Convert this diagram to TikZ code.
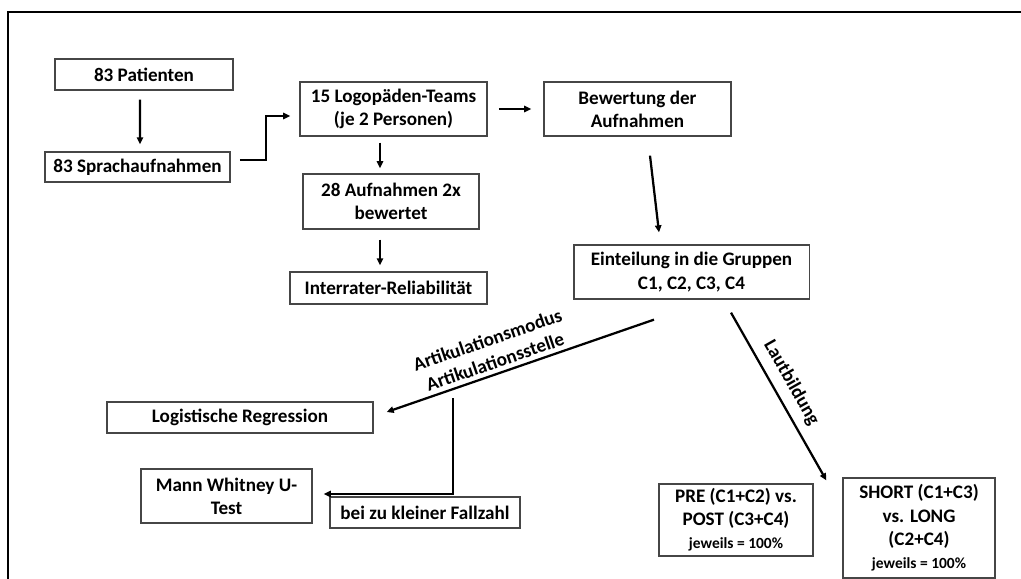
\documentclass[tikz,border=0pt]{standalone}
\usepackage{fontspec}
\setmainfont{Carlito}
\usetikzlibrary{arrows.meta, positioning, calc}
\definecolor{boxgray}{RGB}{70,70,70}
\newcommand{\flowfont}{\fontsize{13.6}{16.5}\selectfont}
\newcommand{\smallflowfont}{\fontsize{11}{13}\selectfont}
\tikzset{
    stage/.style={rectangle, draw=boxgray, line width=0.9pt, align=center, inner sep=2pt, font=\flowfont\bfseries},
    arrow/.style={-{Triangle[length=5pt, width=4.5pt]}, line width=1.6pt},
    edgelabel/.style={font=\flowfont\bfseries, align=center, inner sep=2pt},
}

\begin{document}
\begin{tikzpicture}[x=0.025cm, y=-0.025cm]
    \useasboundingbox (0,0) rectangle (1021,579);
    \draw[line width=1.8pt] (8,579) -- (8,12) -- (1021,12);

    \node[stage, minimum width=4.45cm, minimum height=0.78cm] (patients) at (144,74.5) {83 Patienten};
    \node[stage, minimum width=4.63cm, minimum height=0.75cm] (recordings) at (137.5,167) {83 Sprachaufnahmen};
    \node[stage, minimum width=4.68cm, minimum height=1.35cm] (teams) at (393.5,109) {15 Logopäden-Teams\\(je 2 Personen)};
    \node[stage, minimum width=4.68cm, minimum height=1.35cm] (rating) at (637.5,109) {Bewertung der\\Aufnahmen};
    \node[stage, minimum width=4.4cm, minimum height=1.38cm] (double) at (391,201.5) {28 Aufnahmen 2x\\bewertet};
    \node[stage, minimum width=4.93cm, minimum height=0.8cm] (irr) at (388.5,288) {Interrater-Reliabilität};
    \node[stage, minimum width=5.88cm, minimum height=1.35cm] (groups) at (691.5,272) {Einteilung in die Gruppen\\C1, C2, C3, C4};
    \node[stage, minimum width=6.65cm, minimum height=0.78cm] (logreg) at (240,417.5) {Logistische Regression};
    \node[stage, minimum width=4.28cm, minimum height=1.35cm] (mwu) at (226.5,496) {Mann Whitney U-\\Test};
    \node[stage, minimum width=4.75cm, minimum height=0.78cm] (few) at (425,512.5) {bei zu kleiner Fallzahl};
    \node[stage, minimum width=3.85cm, minimum height=1.8cm] (prepost) at (736,520) {PRE (C1+C2) vs.\\POST (C3+C4)\\{\smallflowfont jeweils = 100\%}};
    \node[stage, minimum width=3.8cm, minimum height=2.5cm] (shortlong) at (919,528) {SHORT (C1+C3)\\vs. LONG\\(C2+C4)\\{\smallflowfont jeweils = 100\%}};

    \draw[arrow] ($(patients.south)+(-4,9)$) -- ($(recordings.north)+(2.5,-7)$);
    \draw[arrow] ($(recordings.east)+(9,-7)$) -- ++(26,0) |- ($(teams.west)+(-9,7)$);
    \draw[arrow] ($(teams.east)+(11,0)$) -- ($(rating.west)+(-12,0)$);
    \draw[arrow] ($(teams.south)+(-13.5,6)$) -- ($(double.north)+(-11,-5)$);
    \draw[arrow] ($(double.south)+(-11,10)$) -- ($(irr.north)+(-8.5,-6)$);
    \draw[arrow] ($(rating.south)+(12.5,19)$) -- ($(groups.north)+(-32.5,-12)$);
    \draw[arrow] ($(groups.south)+(-37.5,20)$) -- node[edgelabel, sloped, above=1pt, pos=0.58] {Artikulationsmodus\\Artikulationsstelle} ($(logreg.east)+(13,-5.5)$);
    \draw[arrow] ($(logreg.east)+(79,-19.5)$) |- ($(mwu.east)+(11,-2)$);
    \draw[arrow] ($(groups.south)+(39.5,13)$) -- node[edgelabel, sloped, above=4pt, pos=0.47] {Lautbildung} ($(shortlong.north west)+(-16,3)$);
\end{tikzpicture}
\end{document}
